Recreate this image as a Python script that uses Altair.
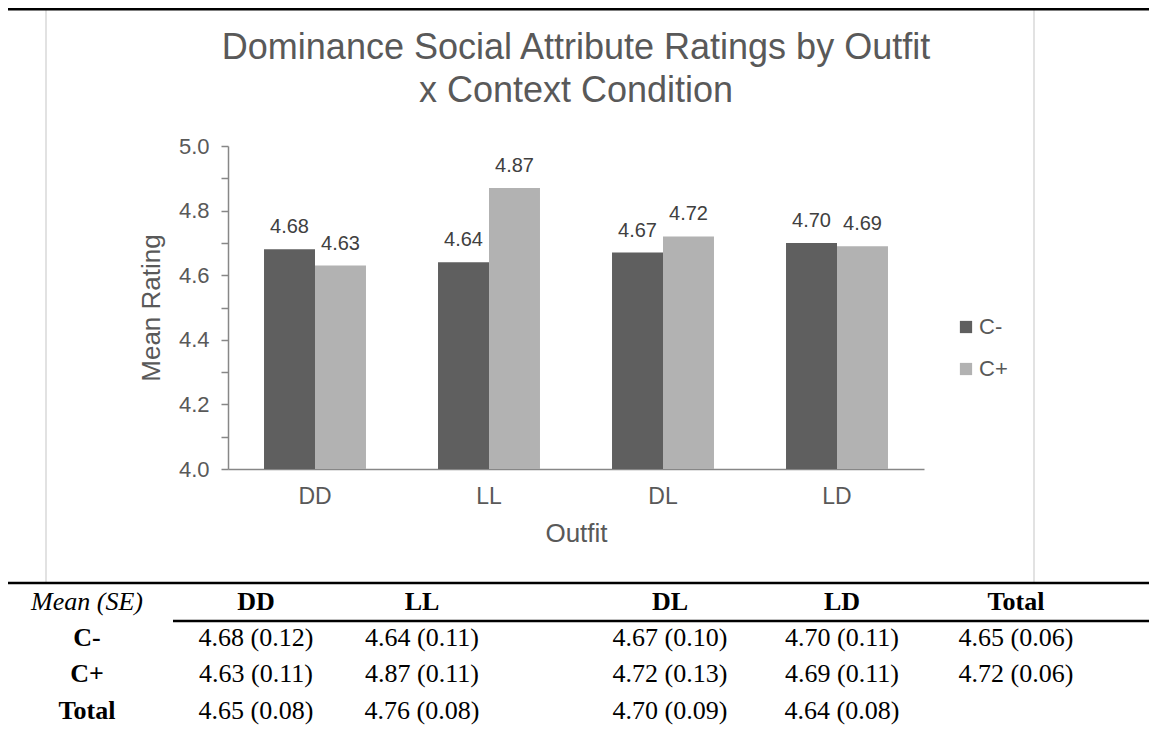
import altair as alt
import pandas as pd

# ---------------- data ----------------
outfits = ["DD", "LL", "DL", "LD"]
conditions = ["C-", "C+"]
mean_c_minus = [4.68, 4.64, 4.67, 4.70]
mean_c_plus = [4.63, 4.87, 4.72, 4.69]
se_c_minus = [0.12, 0.11, 0.10, 0.11]
se_c_plus = [0.11, 0.11, 0.13, 0.11]
mean_total = [4.65, 4.76, 4.70, 4.64]
se_total = [0.08, 0.08, 0.09, 0.08]
cond_total_mean = [4.65, 4.72]
cond_total_se = [0.06, 0.06]
table_columns = ["DD", "LL", "DL", "LD", "Total"]
row_labels = ["C-", "C+", "Total"]
corner_label = "Mean (SE)"

# ---------------- tables for the library ----------------
bars_df = pd.DataFrame({
    "Outfit": outfits * 2,
    "Condition": [conditions[0]] * len(outfits) + [conditions[1]] * len(outfits),
    "Rating": mean_c_minus + mean_c_plus,
})

def cell(m, s):
    return f"{m:.2f} ({s:.2f})"

value_rows = []
for j in range(len(outfits)):
    value_rows.append({"col": j + 1, "row": 1, "text": cell(mean_c_minus[j], se_c_minus[j])})
    value_rows.append({"col": j + 1, "row": 2, "text": cell(mean_c_plus[j], se_c_plus[j])})
    value_rows.append({"col": j + 1, "row": 3, "text": cell(mean_total[j], se_total[j])})
for i in range(len(cond_total_mean)):
    value_rows.append({"col": 5, "row": i + 1, "text": cell(cond_total_mean[i], cond_total_se[i])})
values_df = pd.DataFrame(value_rows)
header_df = pd.DataFrame({"col": list(range(1, 6)), "row": [0] * 5, "text": table_columns})
rowlab_df = pd.DataFrame({"col": [0] * 3, "row": [1, 2, 3], "text": row_labels})
corner_df = pd.DataFrame({"col": [0], "row": [0], "text": [corner_label]})

# ---------------- styling ----------------
GRAY_TXT = "#595959"
AXIS_GRAY = "#878787"
SANS = "Liberation Sans"
SERIF = "Liberation Serif"

# pixel layout of the table relative to the plot origin
col_px = [-141, 28, 194, 442, 614, 788]
row_px = [456, 492, 528, 565]

x_bar = alt.X(
    "Outfit:N", sort=outfits, title="Outfit",
    scale=alt.Scale(paddingInner=0.414, paddingOuter=0.207),
    axis=alt.Axis(labelAngle=0, ticks=False, labelFontSize=23, labelColor=GRAY_TXT,
                  labelFont=SANS, labelPadding=16, domainColor=AXIS_GRAY, domainWidth=1.5,
                  titleFontSize=26, titleColor=GRAY_TXT, titleFont=SANS,
                  titleFontWeight="normal", titlePadding=12, grid=False),
)
y_bar = alt.Y(
    "Rating:Q", title="Mean Rating",
    scale=alt.Scale(domain=[4.0, 5.0], zero=False, nice=False),
    axis=alt.Axis(values=[round(4.0 + i * 0.1, 1) for i in range(11)],
                  labelExpr="round(datum.value*10) % 2 == 0 ? format(datum.value, '.1f') : ''",
                  labelFontSize=22, labelColor=GRAY_TXT, labelFont=SANS, labelPadding=12,
                  tickSize=7, tickColor=AXIS_GRAY, tickWidth=1.5,
                  domainColor=AXIS_GRAY, domainWidth=1.5, grid=False,
                  titleFontSize=26, titleColor=GRAY_TXT, titleFont=SANS,
                  titleFontWeight="normal", titlePadding=14),
)
x_off = alt.XOffset("Condition:N", sort=conditions, scale=alt.Scale(domain=conditions))
color = alt.Color(
    "Condition:N", sort=conditions,
    scale=alt.Scale(domain=conditions, range=["#5f5f5f", "#b2b2b2"]),
    legend=alt.Legend(title=None, orient="none", legendX=727, legendY=170,
                      symbolType="square", symbolSize=150, symbolStrokeWidth=0,
                      labelFontSize=22, labelFont=SANS, labelColor=GRAY_TXT,
                      rowPadding=20, labelOffset=2, padding=0),
)

bars = alt.Chart(bars_df).mark_bar().encode(
    x=x_bar, y=y_bar, y2=alt.datum(4.0), xOffset=x_off, color=color)
labels = alt.Chart(bars_df).mark_text(
    baseline="alphabetic", dy=-16, fontSize=20, font=SANS, color="#404040"
).encode(x=x_bar, y=y_bar, xOffset=x_off, text=alt.Text("Rating:Q", format=".2f"))
plot = alt.layer(bars, labels)

tx = alt.X("col:Q", axis=None,
           scale=alt.Scale(domain=list(range(6)), range=col_px, nice=False, zero=False))
ty = alt.Y("row:Q", axis=None,
           scale=alt.Scale(domain=list(range(4)), range=row_px, nice=False, zero=False))

def ttext(df, **kw):
    return alt.Chart(df).mark_text(font=SERIF, fontSize=26, color="black",
                                   baseline="middle", align="center", **kw).encode(
        x=tx, y=ty, text="text:N")

table = alt.layer(
    ttext(corner_df, fontStyle="italic"),
    ttext(header_df, fontWeight="bold"),
    ttext(rowlab_df, fontWeight="bold"),
    ttext(values_df),
)

# decorative frame and rules
frame_df = pd.DataFrame({"k": [0]})
box = alt.Chart(frame_df).mark_rect(fill=None, stroke="#d9d9d9", strokeWidth=1.5).encode(
    x=alt.value(-182), x2=alt.value(806), y=alt.value(-140), y2=alt.value(437))
top_rule = alt.Chart(frame_df).mark_rule(color="black", strokeWidth=3).encode(
    x=alt.value(-230), x2=alt.value(930), y=alt.value(-137))
table_rule = alt.Chart(frame_df).mark_rule(color="black", strokeWidth=2.5).encode(
    x=alt.value(-221), x2=alt.value(930), y=alt.value(437))
head_rule = alt.Chart(frame_df).mark_rule(color="black", strokeWidth=2.5).encode(
    x=alt.value(-55), x2=alt.value(930), y=alt.value(475))

chart = alt.layer(box, top_rule, table_rule, head_rule, plot, table).resolve_scale(
    x="independent", y="independent"
).properties(
    width=696, height=323,
    autosize=alt.AutoSizeParams(type="none"),
    padding={"left": 220, "top": 138, "right": 225, "bottom": 257},
    title=alt.TitleParams(
        ["Dominance Social Attribute Ratings by Outfit", "x Context Condition"],
        fontSize=36, font=SANS, color=GRAY_TXT, fontWeight="normal",
        lineHeight=43, anchor="middle", frame="group", offset=-105,
    ),
).configure_view(stroke=None)

chart.save("out.html", embed_options={"renderer": "svg", "actions": False})
